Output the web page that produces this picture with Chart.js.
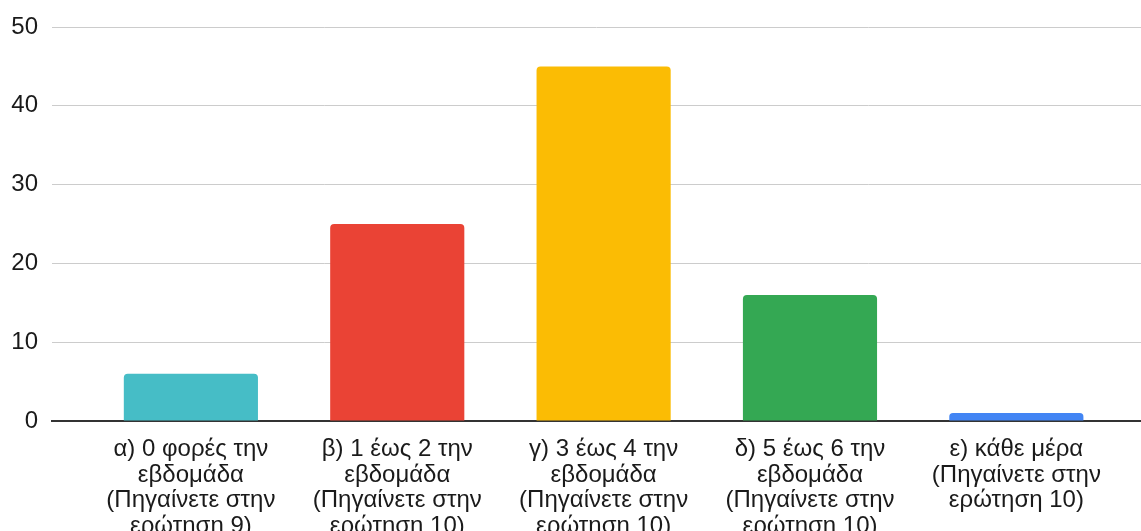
<!DOCTYPE html>
<html>
<head>
<meta charset="utf-8">
<script src="https://cdn.jsdelivr.net/npm/chart.js@4/dist/chart.umd.min.js"></script>
<style>
  html, body { margin: 0; padding: 0; background: #fff; }
  #wrap { width: 1141px; height: 531px; }
</style>
</head>
<body>
<div id="wrap"><canvas id="freq"></canvas></div>
<script>
// answers: how often per week
var categories = [
    ['α) 0 φορές την', 'εβδομάδα', '(Πηγαίνετε στην', 'ερώτηση 9)'],
    ['β) 1 έως 2 την', 'εβδομάδα', '(Πηγαίνετε στην', 'ερώτηση 10)'],
    ['γ) 3 έως 4 την', 'εβδομάδα', '(Πηγαίνετε στην', 'ερώτηση 10)'],
    ['δ) 5 έως 6 την', 'εβδομάδα', '(Πηγαίνετε στην', 'ερώτηση 10)'],
    ['ε) κάθε μέρα', '(Πηγαίνετε στην', 'ερώτηση 10)']
];
var counts = [6, 25, 45, 16, 1];
var barColors = ['#46bdc6', '#ea4335', '#fbbc04', '#34a853', '#4285f4'];
var yTicks = [0, 10, 20, 30, 40, 50];

var font = { family: '"Liberation Sans", Arial, sans-serif', size: 24, lineHeight: 1.08 };

var ctx = document.getElementById('freq').getContext('2d');
var myChart = new Chart(ctx, {
    type: 'bar',
    data: {
        datasets: [{
            data: counts.map(function (v, i) { return { x: i, y: v }; }),
            backgroundColor: barColors,
            borderRadius: 4,
            categoryPercentage: 1,
            barPercentage: 0.65
        }]
    },
    options: {
        responsive: true,
        maintainAspectRatio: false,
        animation: false,
        layout: { padding: { top: 27, left: 0, right: 0, bottom: 0 } },
        plugins: { legend: { display: false }, tooltip: { enabled: false } },
        scales: {
            x: {
                type: 'linear',
                offset: false,
                min: -0.673,
                max: 4.604,
                grid: { display: false },
                border: { display: true, color: '#333333', width: 2 },
                afterBuildTicks: function (scale) {
                    scale.ticks = categories.map(function (c, i) { return { value: i }; });
                },
                afterFit: function (scale) { scale.height = 110; },
                ticks: {
                    autoSkip: false,
                    maxRotation: 0,
                    padding: 7,
                    color: '#1a1a1a',
                    font: font,
                    callback: function (value) { return categories[value]; }
                }
            },
            y: {
                min: 0,
                max: 50,
                afterBuildTicks: function (scale) {
                    scale.ticks = yTicks.map(function (v) { return { value: v }; });
                },
                afterFit: function (scale) { scale.width = 52; },
                border: { display: false },
                grid: {
                    drawTicks: false,
                    color: function (c) { return c.tick && c.tick.value === 0 ? 'rgba(0,0,0,0)' : '#cccccc'; },
                    lineWidth: 1
                },
                ticks: {
                    padding: 14,
                    color: '#1a1a1a',
                    font: font
                }
            }
        }
    }
});
</script>
</body>
</html>
